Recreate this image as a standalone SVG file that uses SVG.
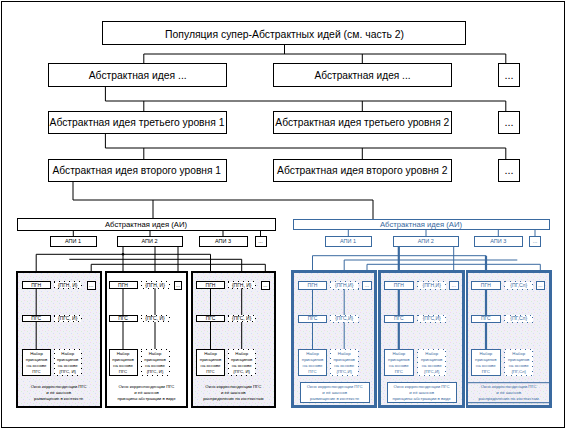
<svg xmlns="http://www.w3.org/2000/svg" width="568" height="430" viewBox="0 0 568 430">
<defs>
<pattern id="noise" width="6" height="6" patternUnits="userSpaceOnUse">
<rect width="6" height="6" fill="#f0eff7"/>
<rect x="0" y="0" width="1" height="1" fill="#f3d6ec"/>
<rect x="3" y="1" width="1" height="1" fill="#d6f0d6"/>
<rect x="5" y="3" width="1" height="1" fill="#d4def5"/>
<rect x="1" y="4" width="1" height="1" fill="#f5f2d4"/>
</pattern>
<style>
rect{shape-rendering:crispEdges}
.n{fill:#fff;stroke:#000;stroke-width:1}
.nb{fill:#fff;stroke:#3a6aa0;stroke-width:1}
.d{fill:#fff;stroke:#000;stroke-width:1;stroke-dasharray:1 4}
.db{fill:#fff;stroke:#3a6aa0;stroke-width:1;stroke-dasharray:1 4}
.big{font-family:"Liberation Sans",Arial,sans-serif;font-size:11px;text-anchor:middle;fill:#000}
.ai{font-family:"Liberation Sans",Arial,sans-serif;font-size:6.5px;text-anchor:middle}
.api{font-family:"Liberation Sans",Arial,sans-serif;font-size:5.5px;text-anchor:middle}
.sm{font-family:"Liberation Sans",Arial,sans-serif;font-size:5px;text-anchor:middle}
.tn{font-family:"Liberation Sans",Arial,sans-serif;font-size:4.3px;text-anchor:middle}
.k{fill:#000}
.b{fill:#3a6aa0}
.cl{fill:none;stroke:#000;stroke-width:1}
.cb{fill:none;stroke:#3a6aa0;stroke-width:1}
.cbt{fill:none;stroke:#3a6aa0;stroke-width:2.2}
</style>
</defs>
<rect x="1.5" y="1.5" width="563" height="426" fill="#fff" stroke="#000" stroke-width="1"/>

<g id="connectors">
<path class="cl" d="M284.5 44V54M143.8 54H505.8M143.8 54V63M362.3 54V63M505.8 54V63"/>
<path class="cl" d="M105.4 86V101M105.4 101H505.8M143.8 101V111M362.3 101V111M505.8 101V111"/>
<path class="cl" d="M105.4 133V148M105.4 148H505.8M143.8 148V159M362.3 148V159M505.8 148V159"/>
<path class="cl" d="M73 181V200H373M153 200V218.3M373 200V219.3"/>
<path class="cl" d="M73.3 230V236M150 230V236M223 230V236M260.5 230V236"/>
<path class="cl" d="M123 246V281.7M155 246V281.7M178 246V281M36.2 254.3H210.5M36.2 254.3V281.7M210.5 254.3V281.7M69.3 259.3H241.7V281.7M91.2 264.3H265.3M91.2 264.3V281M265.3 264.3V281"/>
<circle cx="123" cy="254.3" r="1.3" fill="#000"/>
<path class="cb" d="M348.3 229V236M426 229V236M498.3 229V236M535 229V236"/>
<path class="cbt" d="M398.8 246.7V281.7"/>
<path class="cb" d="M453.7 246.7V281M312.5 255.7H486M312.5 255.7V281.7M344.2 260H517.3M344.2 260V281.7M367 264.3H540.3M367 264.3V281M540.3 264.3V281"/>
<path class="cbt" d="M486 255.7V281.7"/>
</g>

<g id="top"><rect class="n" x="102.5" y="21" width="363" height="23"/><text class="big" x="284.5" y="37.5" textLength="239" lengthAdjust="spacingAndGlyphs">Популяция супер-Абстрактных идей (см. часть 2)</text></g>
<g id="r2a"><rect class="n" x="48.2" y="63" width="178.2" height="23"/><text class="big" x="137.7" y="78.5" textLength="98" lengthAdjust="spacingAndGlyphs">Абстрактная идея ...</text></g>
<g id="r2b"><rect class="n" x="273.6" y="63" width="177.8" height="23"/><text class="big" x="362.5" y="78.5" textLength="96" lengthAdjust="spacingAndGlyphs">Абстрактная идея ...</text></g>
<g id="r2c"><rect class="n" x="498.9" y="63" width="20.3" height="23"/><text class="big" x="509" y="78.5">...</text></g>
<g id="r3a"><rect class="n" x="48.2" y="111" width="178.2" height="22"/><text class="big" x="137" y="126" textLength="175" lengthAdjust="spacingAndGlyphs">Абстрактная идея третьего уровня 1</text></g>
<g id="r3b"><rect class="n" x="273.6" y="111" width="177.8" height="22"/><text class="big" x="362.3" y="126" textLength="174" lengthAdjust="spacingAndGlyphs">Абстрактная идея третьего уровня 2</text></g>
<g id="r3c"><rect class="n" x="498.9" y="111" width="20.3" height="22"/><text class="big" x="509" y="126">...</text></g>
<g id="r4a"><rect class="n" x="48.2" y="159" width="178.2" height="22"/><text class="big" x="136.8" y="174" textLength="168.5" lengthAdjust="spacingAndGlyphs">Абстрактная идея второго уровня 1</text></g>
<g id="r4b"><rect class="n" x="273.6" y="159" width="177.8" height="22"/><text class="big" x="362.3" y="174" textLength="170.5" lengthAdjust="spacingAndGlyphs">Абстрактная идея второго уровня 2</text></g>
<g id="r4c"><rect class="n" x="498.9" y="159" width="20.3" height="22"/><text class="big" x="509" y="174">...</text></g>

<g id="ai1"><rect class="n" x="17.3" y="218.3" width="257.7" height="11.7"/><text class="ai k" x="146" y="226.6" textLength="82" lengthAdjust="spacingAndGlyphs">Абстрактная идея (АИ)</text></g>
<g id="api11"><rect class="n" x="50" y="236" width="46" height="10"/><text class="api k" x="73" y="243">АПИ 1</text></g>
<g id="api12"><rect class="n" x="117" y="236" width="65" height="10"/><text class="api k" x="149.5" y="243">АПИ 2</text></g>
<g id="api13"><rect class="n" x="199" y="236" width="48" height="10"/><text class="api k" x="223" y="243">АПИ 3</text></g>
<g id="api14"><rect class="n" x="255" y="236" width="11" height="10"/><text class="api k" x="260.5" y="243">...</text></g>

<g id="ai2"><rect class="nb" x="293.3" y="219.3" width="256" height="9.7"/><text class="ai b" x="421" y="226.6" textLength="82" lengthAdjust="spacingAndGlyphs">Абстрактная идея (АИ)</text></g>
<g id="api21"><rect class="nb" x="325" y="236" width="46" height="10.7"/><text class="api b" x="348" y="243.2">АПИ 1</text></g>
<g id="api22"><rect class="nb" x="393.3" y="236" width="65" height="10.7"/><text class="api b" x="425.8" y="243.2">АПИ 2</text></g>
<g id="api23"><rect class="nb" x="474.3" y="236" width="48" height="10.7"/><text class="api b" x="498.3" y="243.2">АПИ 3</text></g>
<g id="api24"><rect class="nb" x="529.3" y="236" width="11.4" height="10.7"/><text class="api b" x="535" y="243.2">...</text></g>

<g id="box1">
<rect x="16.7" y="271.7" width="84" height="135" fill="url(#noise)" stroke="#000" stroke-width="2"/>
<path class="cl" d="M36.2 288.3V315M36.2 321.7V349.3"/>
<rect class="n" x="22.3" y="281.7" width="27.7" height="6.6"/><text class="sm k" x="36.2" y="286.8">ПГН</text>
<rect class="d" x="54.3" y="281.7" width="26.7" height="6.6"/><text class="sm k" x="67.7" y="286.8">{ПГН, И}</text>
<rect class="n" x="87.3" y="281" width="7.7" height="8"/><text class="sm k" x="91.2" y="286.8">...</text>
<rect class="n" x="22.3" y="315" width="27.7" height="6.7"/><text class="sm k" x="36.2" y="320.1">ПГС</text>
<rect class="d" x="54.3" y="315" width="26.7" height="6.7"/><text class="sm k" x="67.7" y="320.1">{ПГС, И}</text>
<rect class="n" x="22.3" y="349.3" width="28.4" height="25.7"/>
<text class="tn k" x="36.5"><tspan x="36.5" y="355">Набор</tspan><tspan x="36.5" y="361">принципов</tspan><tspan x="36.5" y="367">на основе</tspan><tspan x="36.5" y="373">ПГС</tspan></text>
<rect class="d" x="54.3" y="349.3" width="26.7" height="25.7"/>
<text class="tn k" x="67.7"><tspan x="67.7" y="355">Набор</tspan><tspan x="67.7" y="361">принципов</tspan><tspan x="67.7" y="367">на основе</tspan><tspan x="67.7" y="373">{ПГС, И}</tspan></text>
<text class="tn k" x="58.7"><tspan x="58.7" y="388.2">Окно корреспонденции ПГС</tspan><tspan x="58.7" y="394">и её шансов</tspan><tspan x="58.7" y="400">размещение в контексте</tspan></text>
</g>

<g id="box2">
<rect x="105.7" y="271.7" width="81.6" height="135" fill="#fff" stroke="#000" stroke-width="2"/>
<path class="cl" d="M123 288.3V315M123 321.7V349.3M155 288.3V315M155 321.7V349.3"/>
<rect class="n" x="109" y="281.7" width="28" height="6.6"/><text class="sm k" x="123" y="286.8">ПГН</text>
<rect class="d" x="141" y="281.7" width="28" height="6.6"/><text class="sm k" x="155" y="286.8">{ПГН, И}</text>
<rect class="n" x="174" y="281" width="7.7" height="8"/><text class="sm k" x="178" y="286.8">...</text>
<rect class="n" x="109" y="315" width="28" height="6.7"/><text class="sm k" x="123" y="320.1">ПГС</text>
<rect class="d" x="141" y="315" width="28" height="6.7"/><text class="sm k" x="155" y="320.1">{ПГС, И}</text>
<rect class="n" x="109" y="349.3" width="28" height="25.7"/>
<text class="tn k" x="123"><tspan x="123" y="355">Набор</tspan><tspan x="123" y="361">принципов</tspan><tspan x="123" y="367">на основе</tspan><tspan x="123" y="373">ПГС</tspan></text>
<rect class="d" x="141" y="349.3" width="28" height="25.7"/>
<text class="tn k" x="155"><tspan x="155" y="355">Набор</tspan><tspan x="155" y="361">принципов</tspan><tspan x="155" y="367">на основе</tspan><tspan x="155" y="373">{ПГС, И}</tspan></text>
<text class="tn k" x="146.5"><tspan x="146.5" y="388.2">Окно корреспонденции ПГС</tspan><tspan x="146.5" y="394">и её шансов</tspan><tspan x="146.5" y="400">принципы абстракции в виде</tspan></text>
</g>

<g id="box3">
<rect x="191.7" y="271.7" width="83.3" height="135" fill="url(#noise)" stroke="#000" stroke-width="2"/>
<path class="cl" d="M210.5 288.3V315M210.5 321.7V349.3M241.7 288.3V315M241.7 321.7V349.3"/>
<rect class="n" x="196.7" y="281.7" width="27.6" height="6.6"/><text class="sm k" x="210.5" y="286.8">ПГН</text>
<rect class="d" x="228.3" y="281.7" width="26.7" height="6.6"/><text class="sm k" x="241.7" y="286.8">{ПГН, И}</text>
<rect class="n" x="261.7" y="281" width="7.3" height="8"/><text class="sm k" x="265.3" y="286.8">...</text>
<rect class="n" x="196.7" y="315" width="27.6" height="6.7"/><text class="sm k" x="210.5" y="320.1">ПГС</text>
<rect class="d" x="228.3" y="315" width="26.7" height="6.7"/><text class="sm k" x="241.7" y="320.1">{ПГС, И}</text>
<rect class="n" x="196.7" y="349.3" width="27.6" height="25.7"/>
<text class="tn k" x="210.5"><tspan x="210.5" y="355">Набор</tspan><tspan x="210.5" y="361">принципов</tspan><tspan x="210.5" y="367">на основе</tspan><tspan x="210.5" y="373">ПГС</tspan></text>
<rect class="d" x="228.3" y="349.3" width="26.7" height="25.7"/>
<text class="tn k" x="241.7"><tspan x="241.7" y="355">Набор</tspan><tspan x="241.7" y="361">принципов</tspan><tspan x="241.7" y="367">на основе</tspan><tspan x="241.7" y="373">{ПГС, И}</tspan></text>
<text class="tn k" x="233.3"><tspan x="233.3" y="388.2">Окно корреспонденции ПГС</tspan><tspan x="233.3" y="394">и её шансов</tspan><tspan x="233.3" y="400">распределение по контекстам</tspan></text>
</g>

<g id="box4">
<rect x="292.3" y="271.7" width="83.4" height="135" fill="url(#noise)" stroke="#3a6aa0" stroke-width="2.5"/>
<path class="cb" d="M312.5 289V315M312.5 322.3V349.3M344.2 289V315M344.2 322.3V349.3"/>
<rect class="nb" x="298.3" y="281.7" width="28.4" height="7.3"/><text class="sm b" x="312.5" y="287.1">ПГН</text>
<rect class="db" x="330" y="281.7" width="28.3" height="7.3"/><text class="sm b" x="344.2" y="287.1">{ПГН,И}</text>
<rect class="nb" x="362.3" y="281" width="9.4" height="8.3"/><text class="sm b" x="367" y="287.1">...</text>
<rect class="nb" x="298.3" y="315" width="28.4" height="7.3"/><text class="sm b" x="312.5" y="320.4">ПГС</text>
<rect class="db" x="330" y="315" width="28.3" height="7.3"/><text class="sm b" x="344.2" y="320.4">{ПГС,И}</text>
<rect class="nb" x="298.3" y="349.3" width="28.4" height="26.4"/>
<text class="tn b" x="312.5"><tspan x="312.5" y="355.2">Набор</tspan><tspan x="312.5" y="361.2">принципов</tspan><tspan x="312.5" y="367.2">на основе</tspan><tspan x="312.5" y="373.2">ПГС</tspan></text>
<rect class="db" x="330" y="349.3" width="28.3" height="26.4"/>
<text class="tn b" x="344.2"><tspan x="344.2" y="355.2">Набор</tspan><tspan x="344.2" y="361.2">принципов</tspan><tspan x="344.2" y="367.2">на основе</tspan><tspan x="344.2" y="373.2">{ПГС,И}</tspan></text>
<rect class="nb" x="300" y="382.3" width="69.3" height="19.7" fill="none"/>
<text class="tn b" x="334.7"><tspan x="334.7" y="388.2">Окно корреспонденции ПГС</tspan><tspan x="334.7" y="394">и её шансов</tspan><tspan x="334.7" y="400">размещение в контексте</tspan></text>
</g>

<g id="box5">
<rect x="379.3" y="271.7" width="84" height="135" fill="url(#noise)" stroke="#3a6aa0" stroke-width="2.5"/>
<path class="cbt" d="M398.8 289V315M398.8 322.3V349.3"/>
<rect class="nb" x="384.3" y="281.7" width="29" height="7.3"/><text class="sm b" x="398.8" y="287.1">ПГН</text>
<rect class="db" x="417.7" y="281.7" width="28" height="7.3"/><text class="sm b" x="431.7" y="287.1">{ПГН,И}</text>
<rect class="nb" x="449" y="281" width="9.3" height="8.3"/><text class="sm b" x="453.7" y="287.1">...</text>
<rect class="nb" x="384.3" y="315" width="29" height="7.3"/><text class="sm b" x="398.8" y="320.4">ПГС</text>
<rect class="db" x="417.7" y="315" width="28" height="7.3"/><text class="sm b" x="431.7" y="320.4">{ПГС,И}</text>
<rect class="nb" x="384.3" y="349.3" width="29" height="26.4"/>
<text class="tn b" x="398.8"><tspan x="398.8" y="355.2">Набор</tspan><tspan x="398.8" y="361.2">принципов</tspan><tspan x="398.8" y="367.2">на основе</tspan><tspan x="398.8" y="373.2">ПГС</tspan></text>
<rect class="db" x="417.7" y="349.3" width="28" height="26.4"/>
<text class="tn b" x="431.7"><tspan x="431.7" y="355.2">Набор</tspan><tspan x="431.7" y="361.2">принципов</tspan><tspan x="431.7" y="367.2">на основе</tspan><tspan x="431.7" y="373.2">{ПГС,И}</tspan></text>
<rect class="nb" x="387.3" y="382.3" width="68.7" height="20.4" fill="none"/>
<text class="tn b" x="421.6"><tspan x="421.6" y="388.2">Окно корреспонденции ПГС</tspan><tspan x="421.6" y="394">и её шансов</tspan><tspan x="421.6" y="400">принципы абстракции в виде</tspan></text>
</g>

<g id="box6">
<rect x="467" y="271.7" width="83.3" height="135" fill="url(#noise)" stroke="#3a6aa0" stroke-width="2.5"/>
<path class="cbt" d="M486 289V315M486 322.3V349.3"/>
<rect class="nb" x="471.3" y="281.7" width="29" height="7.3"/><text class="sm b" x="485.8" y="287.1">ПГН</text>
<rect class="db" x="504.7" y="281.7" width="28" height="7.3"/><text class="sm b" x="518.7" y="287.1">{ПГ,Сл}</text>
<rect class="nb" x="536" y="281" width="8.7" height="8.3"/><text class="sm b" x="540.3" y="287.1">...</text>
<rect class="nb" x="471.3" y="315" width="29" height="7.3"/><text class="sm b" x="485.8" y="320.4">ПГС</text>
<rect class="db" x="504.7" y="315" width="28" height="7.3"/><text class="sm b" x="518.7" y="320.4">{ПГ,Сл}</text>
<rect class="nb" x="471.3" y="349.3" width="29" height="26.4"/>
<text class="tn b" x="485.8"><tspan x="485.8" y="355.2">Набор</tspan><tspan x="485.8" y="361.2">принципов</tspan><tspan x="485.8" y="367.2">на основе</tspan><tspan x="485.8" y="373.2">ПГС</tspan></text>
<rect class="db" x="504.7" y="349.3" width="28" height="26.4"/>
<text class="tn b" x="518.7"><tspan x="518.7" y="355.2">Набор</tspan><tspan x="518.7" y="361.2">принципов</tspan><tspan x="518.7" y="367.2">на основе</tspan><tspan x="518.7" y="373.2">{ПГ,Сл}</tspan></text>
<path class="cb" d="M467 382.7H550.3M467 402.7H550.3"/>
<text class="tn b" x="508.7"><tspan x="508.7" y="388.2">Окно корреспонденции ПГС</tspan><tspan x="508.7" y="394">и её шансов</tspan><tspan x="508.7" y="400">распределение по контекстам</tspan></text>
</g>
</svg>
